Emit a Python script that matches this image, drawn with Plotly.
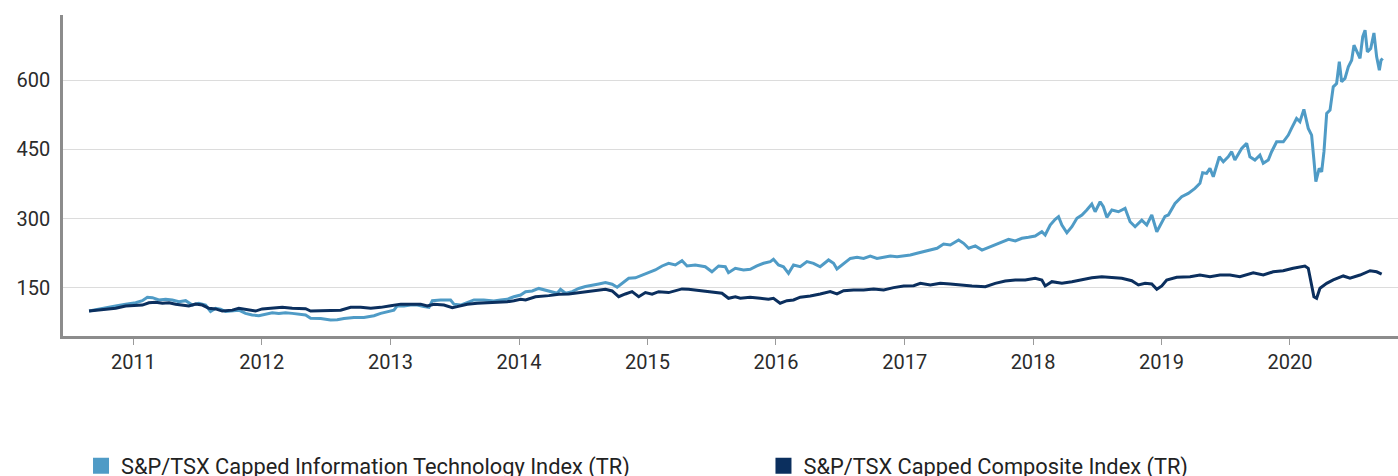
import plotly.graph_objects as go
import pandas as pd

# ---- data (time as decimal years, values as index levels) ----
it_t = [2010.655, 2010.785, 2010.862, 2010.940, 2011.018, 2011.070, 2011.109, 2011.148, 2011.199, 2011.251,
        2011.303, 2011.355, 2011.407, 2011.459, 2011.510, 2011.562, 2011.601, 2011.640, 2011.679, 2011.718,
        2011.770, 2011.821, 2011.873, 2011.925, 2011.977, 2012.029, 2012.081, 2012.132, 2012.184, 2012.236,
        2012.288, 2012.340, 2012.379, 2012.457, 2012.534, 2012.586, 2012.638, 2012.715, 2012.793, 2012.871,
        2012.923, 2012.975, 2013.026, 2013.053, 2013.104, 2013.156, 2013.208, 2013.260, 2013.299, 2013.325,
        2013.390, 2013.467, 2013.493, 2013.545, 2013.597, 2013.649, 2013.726, 2013.804, 2013.856, 2013.908,
        2013.960, 2014.012, 2014.051, 2014.103, 2014.154, 2014.206, 2014.258, 2014.297, 2014.323, 2014.362,
        2014.414, 2014.465, 2014.517, 2014.569, 2014.621, 2014.673, 2014.725, 2014.764, 2014.802, 2014.854,
        2014.906, 2014.958, 2015.009, 2015.061, 2015.114, 2015.165, 2015.217, 2015.269, 2015.308, 2015.372,
        2015.450, 2015.502, 2015.554, 2015.606, 2015.631, 2015.684, 2015.748, 2015.800, 2015.852, 2015.904,
        2015.956, 2015.981, 2016.020, 2016.059, 2016.098, 2016.137, 2016.189, 2016.241, 2016.292, 2016.344,
        2016.409, 2016.448, 2016.474, 2016.526, 2016.578, 2016.630, 2016.681, 2016.733, 2016.785, 2016.837,
        2016.889, 2016.941, 2016.992, 2017.044, 2017.096, 2017.148, 2017.200, 2017.252, 2017.303, 2017.355,
        2017.420, 2017.459, 2017.498, 2017.550, 2017.602, 2017.653, 2017.705, 2017.757, 2017.809, 2017.861,
        2017.913, 2017.964, 2018.016, 2018.068, 2018.094, 2018.133, 2018.172, 2018.198, 2018.224, 2018.263,
        2018.302, 2018.341, 2018.380, 2018.418, 2018.457, 2018.483, 2018.522, 2018.547, 2018.574, 2018.613,
        2018.664, 2018.716, 2018.755, 2018.794, 2018.846, 2018.885, 2018.924, 2018.963, 2019.002, 2019.027,
        2019.053, 2019.105, 2019.157, 2019.208, 2019.260, 2019.299, 2019.320, 2019.351, 2019.377, 2019.403,
        2019.450, 2019.481, 2019.519, 2019.546, 2019.571, 2019.624, 2019.663, 2019.688, 2019.727, 2019.766,
        2019.792, 2019.831, 2019.857, 2019.896, 2019.948, 2019.987, 2020.012, 2020.051, 2020.077, 2020.108,
        2020.142, 2020.168, 2020.186, 2020.201, 2020.227, 2020.246, 2020.264, 2020.285, 2020.311, 2020.336,
        2020.362, 2020.383, 2020.401, 2020.427, 2020.453, 2020.479, 2020.497, 2020.518, 2020.544, 2020.565,
        2020.583, 2020.601, 2020.627, 2020.652, 2020.673, 2020.694, 2020.707, 2020.720]
it_v = [100, 106, 111, 115, 118, 122.5, 130, 129, 124, 125.5,
        124, 120, 122.5, 113, 117, 113, 99, 106, 104, 99,
        101, 102, 95, 91.6, 90, 94, 96.5, 95, 96.5, 95,
        93, 91.6, 84.4, 84, 80.8, 81, 84, 86, 86, 90,
        95, 99, 102, 111.7, 111, 113, 113, 109.6, 108, 122.5,
        124, 124, 115, 113, 118, 124, 124, 122, 124, 125.5,
        131, 134.8, 142, 143.5, 149, 145.7, 142, 138.5, 147, 138.5,
        142, 149, 153, 156.5, 158.7, 161.5, 158, 151.5, 160, 171,
        172, 178, 183, 189, 197.6, 203.4, 199.8, 209, 197.6, 199.8,
        196, 185, 197.6, 196, 183, 192.6, 189, 190.4, 197.6, 203.4,
        207, 212, 199.8, 196, 181.7, 199.8, 196, 207, 203.4, 196,
        210.6, 203.4, 191, 203.4, 214, 216.4, 214, 219, 214, 216.4,
        219, 217.7, 219, 221.4, 225, 228.6, 232, 236, 245, 243,
        253.8, 246.7, 236, 241, 232, 238, 243, 250, 255.3, 251.7,
        257.5, 259.7, 262.5, 271.8, 264.7, 286.3, 298.6, 304.3, 286.3, 269.6,
        282.6, 300.8, 308, 318.8, 331.7, 315, 336.7, 326, 303, 318.8,
        315, 322.4, 293.5, 282.6, 297, 286.3, 308, 271.8, 293.5, 305,
        308, 333, 347.5, 354.8, 365.7, 376.5, 399.5, 398, 408.9, 390.8,
        434, 423.3, 434, 445, 427, 452, 463, 434, 427, 437.7,
        419.8, 427, 445, 466.5, 466.5, 481, 495.5, 517, 510, 536.6,
        495.5, 481, 427, 380, 408.9, 401.6, 445, 528, 535, 585.5,
        592.8, 639.8, 596.4, 603.7, 628.8, 643, 675.8, 661, 647, 694,
        708, 661, 668.5, 702, 650.5, 621.6, 643, 647]

comp_t = [2010.655, 2010.785, 2010.862, 2010.940, 2011.018, 2011.070, 2011.121, 2011.173, 2011.226, 2011.277,
          2011.329, 2011.381, 2011.432, 2011.484, 2011.537, 2011.588, 2011.640, 2011.692, 2011.770, 2011.821,
          2011.899, 2011.951, 2012.003, 2012.081, 2012.159, 2012.236, 2012.340, 2012.379, 2012.457, 2012.534,
          2012.612, 2012.690, 2012.768, 2012.846, 2012.923, 2013.001, 2013.079, 2013.156, 2013.234, 2013.286,
          2013.338, 2013.415, 2013.481, 2013.519, 2013.597, 2013.675, 2013.753, 2013.830, 2013.908, 2013.960,
          2014.012, 2014.051, 2014.128, 2014.232, 2014.310, 2014.387, 2014.465, 2014.543, 2014.621, 2014.673,
          2014.725, 2014.776, 2014.828, 2014.880, 2014.932, 2014.984, 2015.036, 2015.087, 2015.165, 2015.217,
          2015.269, 2015.320, 2015.398, 2015.476, 2015.528, 2015.580, 2015.631, 2015.684, 2015.723, 2015.800,
          2015.878, 2015.942, 2015.981, 2016.033, 2016.086, 2016.137, 2016.189, 2016.267, 2016.344, 2016.422,
          2016.474, 2016.526, 2016.603, 2016.681, 2016.759, 2016.837, 2016.914, 2016.992, 2017.070, 2017.122,
          2017.200, 2017.277, 2017.355, 2017.420, 2017.524, 2017.628, 2017.705, 2017.783, 2017.861, 2017.939,
          2018.016, 2018.068, 2018.094, 2018.146, 2018.224, 2018.302, 2018.380, 2018.457, 2018.535, 2018.613,
          2018.690, 2018.768, 2018.820, 2018.872, 2018.924, 2018.963, 2019.002, 2019.040, 2019.118, 2019.222,
          2019.299, 2019.377, 2019.455, 2019.533, 2019.610, 2019.714, 2019.792, 2019.869, 2019.947, 2020.025,
          2020.077, 2020.116, 2020.142, 2020.168, 2020.186, 2020.207, 2020.233, 2020.285, 2020.336, 2020.414,
          2020.466, 2020.544, 2020.622, 2020.673, 2020.712]
comp_v = [100, 104.6, 106, 111, 113, 113, 118, 119, 117, 118,
          114.7, 113, 111, 115, 113, 106, 104.6, 100, 102, 106,
          102, 100, 104.6, 106.7, 108, 106, 105, 100, 101, 102,
          102, 108, 108, 106, 108, 111.7, 115, 114.7, 115, 111,
          114.7, 113, 107.4, 109.6, 114.7, 117, 118, 120, 120, 122.5,
          125.5, 124, 131, 133.4, 136.4, 137, 140, 142, 145.7, 147,
          143.5, 131, 137, 142, 131, 140, 136.4, 142, 140, 144,
          148, 147, 144, 142, 140, 138.5, 127.7, 131, 127.7, 130,
          127.7, 125.5, 127.7, 117, 122.5, 124, 130, 132.7, 137, 142,
          137, 144, 145.7, 145.7, 148, 145.7, 150.7, 154.3, 155, 160,
          156.5, 160, 158.7, 156.5, 154.3, 152.8, 160, 165, 167.3, 167.3,
          171, 167.3, 154.3, 163.6, 160, 163.6, 168.8, 172.3, 174.5, 172.3,
          171, 165.8, 156.5, 160, 158.7, 147, 154.3, 167.3, 173, 174.5,
          178, 174.5, 178, 178, 174.5, 183, 178, 185, 187.4, 192.6,
          194.8, 197.6, 192.6, 160, 131, 127.7, 149.3, 160, 167.3, 176,
          171, 178, 187.4, 185, 180]

series_names = ["S&P/TSX Capped Information Technology Index (TR)",
                "S&P/TSX Capped Composite Index (TR)"]
colors = ["#4F9BC6", "#0B2F5E"]
y_ticks = [150, 300, 450, 600]
x_tick_years = list(range(2011, 2021))


def to_dates(ts):
    out = []
    for t in ts:
        y = int(t)
        start = pd.Timestamp(year=y, month=1, day=1)
        end = pd.Timestamp(year=y + 1, month=1, day=1)
        out.append(start + (end - start) * (t - y))
    return out


fig = go.Figure()
for t, v, name, c in [(it_t, it_v, series_names[0], colors[0]),
                      (comp_t, comp_v, series_names[1], colors[1])]:
    fig.add_trace(go.Scatter(x=to_dates(t), y=v, mode="lines", name=name,
                             line=dict(color=c, width=3), showlegend=False,
                             legendgroup=name))
for name, c, lg in zip(series_names, colors, ["legend", "legend2"]):
    fig.add_trace(go.Scatter(x=[None], y=[None], mode="markers", name=name,
                             marker=dict(symbol="square", size=16, color=c),
                             legendgroup=name, showlegend=True, legend=lg))

font_family = "Roboto, 'Open Sans', sans-serif"
legend_common = dict(orientation="h", xanchor="left", y=-0.34, yanchor="top",
                     font=dict(size=21.8, color="#222222"),
                     bgcolor="rgba(0,0,0,0)")
fig.update_layout(
    width=1398, height=476,
    margin=dict(l=63, r=0, t=15, b=140, autoexpand=False),
    paper_bgcolor="white", plot_bgcolor="white",
    font=dict(family=font_family, size=20, color="#2b2b2b"),
    showlegend=True,
    legend=dict(x=0.0135, **legend_common),
    legend2=dict(x=0.5247, **legend_common),
)
fig.update_xaxes(
    type="date",
    range=["2010-06-15", "2020-11-03"],
    tickvals=[pd.Timestamp(year=y, month=1, day=1) for y in x_tick_years],
    ticktext=[str(y) for y in x_tick_years],
    showgrid=False, zeroline=False,
    showline=True, linecolor="#8c8c8c", linewidth=2.5,
    ticks="outside", ticklen=6, tickcolor="#9a9a9a", tickwidth=1,
    ticklabelstandoff=0,
    tickfont=dict(size=20, color="#2b2b2b"),
)
fig.update_yaxes(
    range=[46, 741],
    tickvals=y_ticks, ticktext=[str(v) for v in y_ticks],
    showgrid=True, gridcolor="#dcdcdc", gridwidth=1.2, zeroline=False,
    showline=True, linecolor="#8c8c8c", linewidth=2.5,
    ticks="", ticklabelstandoff=6,
    tickfont=dict(size=20, color="#2b2b2b"),
)

fig.write_html(
    "out.html",
    config={"displayModeBar": False},
    post_script="document.body.style.margin='0';document.body.style.overflow='hidden';",
)
